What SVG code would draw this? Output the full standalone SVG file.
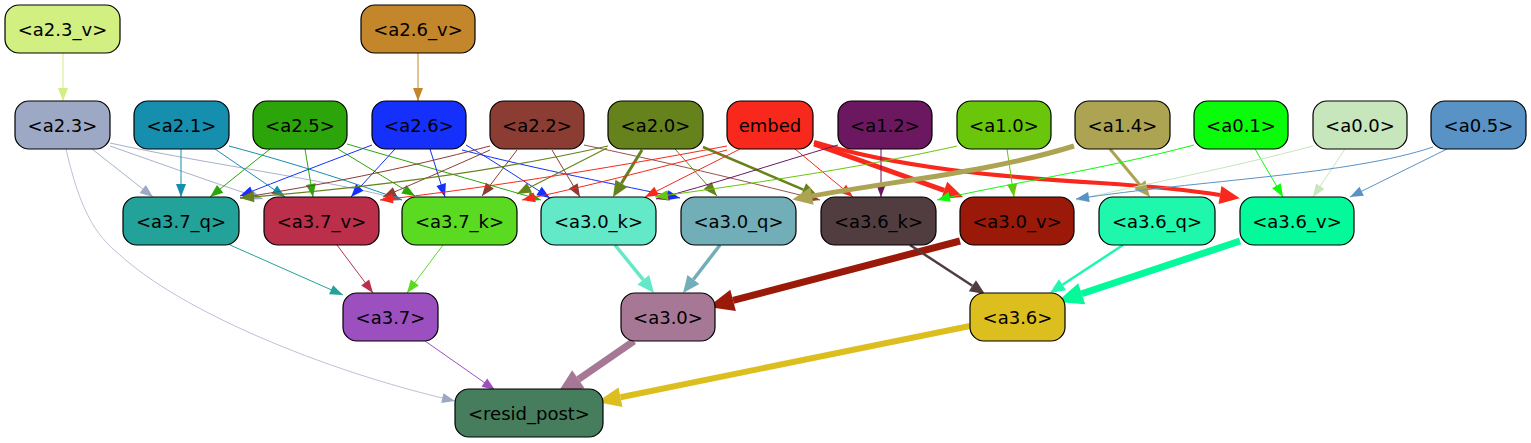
<svg xmlns="http://www.w3.org/2000/svg" width="1531" height="443" viewBox="0 0 1531 443">
<style>
.n rect{stroke:#000;stroke-width:1.2}
.n text{font-family:"DejaVu Sans",sans-serif;font-size:18px;text-anchor:middle;fill:#000}
#edges path{fill:none}
</style>
<defs>
<marker id="t-d1f081" markerUnits="userSpaceOnUse" orient="auto" overflow="visible" refX="0" refY="0"><path d="M-13,-5L0,0L-13,5z" fill="#d1f081"/></marker>
<marker id="t-c4862a" markerUnits="userSpaceOnUse" orient="auto" overflow="visible"><path d="M-13,-5L0,0L-13,5z" fill="#c4862a"/></marker>
<marker id="t-9da8c4" markerUnits="userSpaceOnUse" orient="auto" overflow="visible"><path d="M-13,-5L0,0L-13,5z" fill="#9da8c4"/></marker>
<marker id="t-168ead" markerUnits="userSpaceOnUse" orient="auto" overflow="visible"><path d="M-13,-5L0,0L-13,5z" fill="#168ead"/></marker>
<marker id="t-2ca50b" markerUnits="userSpaceOnUse" orient="auto" overflow="visible"><path d="M-13,-5L0,0L-13,5z" fill="#2ca50b"/></marker>
<marker id="t-1430fa" markerUnits="userSpaceOnUse" orient="auto" overflow="visible"><path d="M-13,-5L0,0L-13,5z" fill="#1430fa"/></marker>
<marker id="t-8b3d34" markerUnits="userSpaceOnUse" orient="auto" overflow="visible"><path d="M-13,-5L0,0L-13,5z" fill="#8b3d34"/></marker>
<marker id="t-65821c" markerUnits="userSpaceOnUse" orient="auto" overflow="visible"><path d="M-14,-5.5L0,0L-14,5.5z" fill="#65821c"/></marker>
<marker id="t-f8291c" markerUnits="userSpaceOnUse" orient="auto" overflow="visible"><path d="M-13,-5L0,0L-13,5z" fill="#f8291c"/></marker>
<marker id="t-6b1860" markerUnits="userSpaceOnUse" orient="auto" overflow="visible"><path d="M-13,-5L0,0L-13,5z" fill="#6b1860"/></marker>
<marker id="t-69c60a" markerUnits="userSpaceOnUse" orient="auto" overflow="visible"><path d="M-13,-5L0,0L-13,5z" fill="#69c60a"/></marker>
<marker id="t-0afc0a" markerUnits="userSpaceOnUse" orient="auto" overflow="visible"><path d="M-13,-5L0,0L-13,5z" fill="#0afc0a"/></marker>
<marker id="t-c7e6bb" markerUnits="userSpaceOnUse" orient="auto" overflow="visible"><path d="M-13,-5L0,0L-13,5z" fill="#c7e6bb"/></marker>
<marker id="t-5993c6" markerUnits="userSpaceOnUse" orient="auto" overflow="visible"><path d="M-13,-5L0,0L-13,5z" fill="#5993c6"/></marker>
<marker id="t-22a299" markerUnits="userSpaceOnUse" orient="auto" overflow="visible"><path d="M-13,-5L0,0L-13,5z" fill="#22a299"/></marker>
<marker id="t-bb2f4b" markerUnits="userSpaceOnUse" orient="auto" overflow="visible"><path d="M-13,-5L0,0L-13,5z" fill="#bb2f4b"/></marker>
<marker id="t-5bda22" markerUnits="userSpaceOnUse" orient="auto" overflow="visible"><path d="M-13,-5L0,0L-13,5z" fill="#5bda22"/></marker>
<marker id="t-9c4fbf" markerUnits="userSpaceOnUse" orient="auto" overflow="visible"><path d="M-13,-5L0,0L-13,5z" fill="#9c4fbf"/></marker>
<marker id="m-65821c" markerUnits="userSpaceOnUse" orient="auto" overflow="visible"><path d="M0,-7L16,0L0,7z" fill="#65821c"/></marker>
<marker id="m-f8291c" markerUnits="userSpaceOnUse" orient="auto" overflow="visible"><path d="M0,-9L20,0L0,9z" fill="#f8291c"/></marker>
<marker id="m5-aca452" markerUnits="userSpaceOnUse" orient="auto" overflow="visible"><path d="M0,-9L20,0L0,9z" fill="#aca452"/></marker>
<marker id="m3-aca452" markerUnits="userSpaceOnUse" orient="auto" overflow="visible"><path d="M0,-7L16,0L0,7z" fill="#aca452"/></marker>
<marker id="m-63e8c8" markerUnits="userSpaceOnUse" orient="auto" overflow="visible"><path d="M0,-7.5L17,0L0,7.5z" fill="#63e8c8"/></marker>
<marker id="m-72aeb8" markerUnits="userSpaceOnUse" orient="auto" overflow="visible"><path d="M0,-7.5L17,0L0,7.5z" fill="#72aeb8"/></marker>
<marker id="m-9a1909" markerUnits="userSpaceOnUse" orient="auto" overflow="visible"><path d="M0,-11L26,0L0,11z" fill="#9a1909"/></marker>
<marker id="m-513d40" markerUnits="userSpaceOnUse" orient="auto" overflow="visible"><path d="M0,-6.5L15,0L0,6.5z" fill="#513d40"/></marker>
<marker id="m-1ff7ad" markerUnits="userSpaceOnUse" orient="auto" overflow="visible"><path d="M0,-6.5L15,0L0,6.5z" fill="#1ff7ad"/></marker>
<marker id="m-04f99b" markerUnits="userSpaceOnUse" orient="auto" overflow="visible"><path d="M0,-11L26,0L0,11z" fill="#04f99b"/></marker>
<marker id="m-a67896" markerUnits="userSpaceOnUse" orient="auto" overflow="visible"><path d="M0,-11L26,0L0,11z" fill="#a67896"/></marker>
<marker id="m-dcbf1e" markerUnits="userSpaceOnUse" orient="auto" overflow="visible"><path d="M0,-10L24,0L0,10z" fill="#dcbf1e"/></marker>
</defs>
<g id="edges">
<path d="M63,53L63,101" stroke="#d1f081" marker-end="url(#t-d1f081)"/>
<path d="M418,53L418,101" stroke="#c4862a" marker-end="url(#t-c4862a)"/>
<path d="M92,149L153,197" stroke="#9da8c4" stroke-width="0.9" marker-end="url(#t-9da8c4)"/>
<path d="M110,146C150,160 220,185 263,199" stroke="#9da8c4" stroke-width="0.9" marker-end="url(#t-9da8c4)"/>
<path d="M110,143C200,163 330,180 402,200" stroke="#9da8c4" stroke-width="0.9" marker-end="url(#t-9da8c4)"/>
<path d="M66,149C80,210 95,235 120,255C180,310 320,370 455,401" stroke="#9da8c4" stroke-width="0.7" marker-end="url(#t-9da8c4)"/>
<path d="M181,149L181,197" stroke="#168ead" marker-end="url(#t-168ead)"/>
<path d="M215,149L285,197" stroke="#168ead" marker-end="url(#t-168ead)"/>
<path d="M229,146C300,165 360,185 402,200" stroke="#168ead" marker-end="url(#t-168ead)"/>
<path d="M270,149L210,197" stroke="#2ca50b" marker-end="url(#t-2ca50b)"/>
<path d="M305,149L313,197" stroke="#2ca50b" marker-end="url(#t-2ca50b)"/>
<path d="M338,149L415,196" stroke="#2ca50b" marker-end="url(#t-2ca50b)"/>
<path d="M347,144C420,165 490,185 541,200" stroke="#2ca50b" marker-end="url(#t-2ca50b)"/>
<path d="M372,145C320,165 280,180 240,196" stroke="#1430fa" marker-end="url(#t-1430fa)"/>
<path d="M395,149L351,197" stroke="#1430fa" marker-end="url(#t-1430fa)"/>
<path d="M430,149L445,197" stroke="#1430fa" marker-end="url(#t-1430fa)"/>
<path d="M466,145C500,165 525,182 550,198" stroke="#1430fa" marker-end="url(#t-1430fa)"/>
<path d="M462,150C540,170 620,185 680,198" stroke="#1430fa" marker-end="url(#t-1430fa)"/>
<path d="M490,146C400,170 320,185 240,198" stroke="#8b3d34" marker-end="url(#t-8b3d34)"/>
<path d="M490,150C450,168 410,185 383,197" stroke="#8b3d34" marker-end="url(#t-8b3d34)"/>
<path d="M517,150L482,196" stroke="#8b3d34" marker-end="url(#t-8b3d34)"/>
<path d="M552,150L580,197" stroke="#8b3d34" marker-end="url(#t-8b3d34)"/>
<path d="M584,145C680,165 760,185 820,200" stroke="#8b3d34" stroke-width="0.9" marker-end="url(#t-8b3d34)"/>
<path d="M608,146C480,175 340,190 240,198" stroke="#65821c" stroke-width="1.2" marker-end="url(#t-65821c)"/>
<path d="M607,148L517,194" stroke="#65821c" stroke-width="1.2" marker-end="url(#t-65821c)"/>
<path d="M642,150L621.4,183.4" stroke="#65821c" stroke-width="3" marker-end="url(#m-65821c)"/>
<path d="M675,149L717,196" stroke="#65821c" marker-end="url(#t-65821c)"/>
<path d="M703,147L803.3,189.7" stroke="#65821c" stroke-width="2.5" marker-end="url(#m-65821c)"/>
<path d="M727,146C600,170 470,190 380,200" stroke="#f8291c" marker-end="url(#t-f8291c)"/>
<path d="M727,150C650,170 580,188 522,200" stroke="#f8291c" marker-end="url(#t-f8291c)"/>
<path d="M740,149L645,197" stroke="#f8291c" marker-end="url(#t-f8291c)"/>
<path d="M795,149L853,197" stroke="#f8291c" marker-end="url(#t-f8291c)"/>
<path d="M814,144L944.2,190.3" stroke="#f8291c" stroke-width="5" marker-end="url(#m-f8291c)"/>
<path d="M814,142C900,168 1000,177 1100,183C1160,187 1195,191 1220,195" stroke="#f8291c" stroke-width="4" marker-end="url(#m-f8291c)"/>
<path d="M838,145C770,165 710,185 656,199" stroke="#6b1860" marker-end="url(#t-6b1860)"/>
<path d="M881,149L881,197" stroke="#6b1860" marker-end="url(#t-6b1860)"/>
<path d="M957,146C850,170 740,185 655,197" stroke="#69c60a" marker-end="url(#t-69c60a)"/>
<path d="M1007,149L1014,197" stroke="#69c60a" marker-end="url(#t-69c60a)"/>
<path d="M1074,146C990,172 900,180 812,196" stroke="#aca452" stroke-width="5" marker-end="url(#m5-aca452)"/>
<path d="M1110,149L1139.8,184.7" stroke="#aca452" stroke-width="3" marker-end="url(#m3-aca452)"/>
<path d="M1194,145C1100,170 1000,185 937,200" stroke="#0afc0a" marker-end="url(#t-0afc0a)"/>
<path d="M1255,149L1283,197" stroke="#0afc0a" marker-end="url(#t-0afc0a)"/>
<path d="M1313,146C1230,168 1140,185 1076,200" stroke="#c7e6bb" marker-end="url(#t-c7e6bb)"/>
<path d="M1345,149L1313,197" stroke="#c7e6bb" marker-end="url(#t-c7e6bb)"/>
<path d="M1433,147C1350,175 1200,180 1076,199" stroke="#5993c6" marker-end="url(#t-5993c6)"/>
<path d="M1447,149L1350,197" stroke="#5993c6" marker-end="url(#t-5993c6)"/>
<path d="M230,245L343,295" stroke="#22a299" marker-end="url(#t-22a299)"/>
<path d="M337,245L373,293" stroke="#bb2f4b" marker-end="url(#t-bb2f4b)"/>
<path d="M443,245L407,293" stroke="#5bda22" marker-end="url(#t-5bda22)"/>
<path d="M615,245L643.3,279.8" stroke="#63e8c8" stroke-width="3.5" marker-end="url(#m-63e8c8)"/>
<path d="M720,245L693.4,279.5" stroke="#72aeb8" stroke-width="3.5" marker-end="url(#m-72aeb8)"/>
<path d="M960,241L733.1,300.4" stroke="#9a1909" stroke-width="7" marker-end="url(#m-9a1909)"/>
<path d="M910,245L972.4,285.8" stroke="#513d40" stroke-width="2.5" marker-end="url(#m-513d40)"/>
<path d="M1123,245L1062.5,284.8" stroke="#1ff7ad" stroke-width="2.5" marker-end="url(#m-1ff7ad)"/>
<path d="M1240,241L1081.7,293.8" stroke="#04f99b" stroke-width="7" marker-end="url(#m-04f99b)"/>
<path d="M425,341L495,390" stroke="#9c4fbf" marker-end="url(#t-9c4fbf)"/>
<path d="M634,341L578.4,379.3" stroke="#a67896" stroke-width="7" marker-end="url(#m-a67896)"/>
<path d="M970,326L620.5,397.2" stroke="#dcbf1e" stroke-width="6" marker-end="url(#m-dcbf1e)"/>
</g>
<g id="a2.3_v" class="n"><rect x="5" y="5" width="115" height="48" rx="14" fill="#d1f081"/><text x="62.5" y="35.5">&lt;a2.3_v&gt;</text></g>
<g id="a2.6_v" class="n"><rect x="361" y="5" width="114" height="48" rx="14" fill="#c4862a"/><text x="418" y="35.5">&lt;a2.6_v&gt;</text></g>
<g id="a2.3" class="n"><rect x="15" y="101" width="95" height="48" rx="14" fill="#9da8c4"/><text x="62.5" y="131.5">&lt;a2.3&gt;</text></g>
<g id="a2.1" class="n"><rect x="134" y="101" width="95" height="48" rx="14" fill="#168ead"/><text x="181.5" y="131.5">&lt;a2.1&gt;</text></g>
<g id="a2.5" class="n"><rect x="253" y="101" width="94" height="48" rx="14" fill="#2ca50b"/><text x="300" y="131.5">&lt;a2.5&gt;</text></g>
<g id="a2.6" class="n"><rect x="372" y="101" width="94" height="48" rx="14" fill="#1430fa"/><text x="419" y="131.5">&lt;a2.6&gt;</text></g>
<g id="a2.2" class="n"><rect x="490" y="101" width="94" height="48" rx="14" fill="#8b3d34"/><text x="537" y="131.5">&lt;a2.2&gt;</text></g>
<g id="a2.0" class="n"><rect x="608" y="101" width="95" height="48" rx="14" fill="#65821c"/><text x="655.5" y="131.5">&lt;a2.0&gt;</text></g>
<g id="embed" class="n"><rect x="727" y="101" width="86" height="48" rx="14" fill="#f8291c"/><text x="770" y="131.5">embed</text></g>
<g id="a1.2" class="n"><rect x="838" y="101" width="94" height="48" rx="14" fill="#6b1860"/><text x="885" y="131.5">&lt;a1.2&gt;</text></g>
<g id="a1.0" class="n"><rect x="957" y="101" width="94" height="48" rx="14" fill="#69c60a"/><text x="1004" y="131.5">&lt;a1.0&gt;</text></g>
<g id="a1.4" class="n"><rect x="1075" y="101" width="95" height="48" rx="14" fill="#aca452"/><text x="1122.5" y="131.5">&lt;a1.4&gt;</text></g>
<g id="a0.1" class="n"><rect x="1194" y="101" width="94" height="48" rx="14" fill="#0afc0a"/><text x="1241" y="131.5">&lt;a0.1&gt;</text></g>
<g id="a0.0" class="n"><rect x="1313" y="101" width="94" height="48" rx="14" fill="#c7e6bb"/><text x="1360" y="131.5">&lt;a0.0&gt;</text></g>
<g id="a0.5" class="n"><rect x="1431" y="101" width="95" height="48" rx="14" fill="#5993c6"/><text x="1478.5" y="131.5">&lt;a0.5&gt;</text></g>
<g id="a3.7_q" class="n"><rect x="123" y="197" width="116" height="48" rx="14" fill="#22a299"/><text x="181" y="227.5">&lt;a3.7_q&gt;</text></g>
<g id="a3.7_v" class="n"><rect x="264" y="197" width="115" height="48" rx="14" fill="#bb2f4b"/><text x="321.5" y="227.5">&lt;a3.7_v&gt;</text></g>
<g id="a3.7_k" class="n"><rect x="402" y="197" width="115" height="48" rx="14" fill="#5bda22"/><text x="459.5" y="227.5">&lt;a3.7_k&gt;</text></g>
<g id="a3.0_k" class="n"><rect x="541" y="197" width="115" height="48" rx="14" fill="#63e8c8"/><text x="598.5" y="227.5">&lt;a3.0_k&gt;</text></g>
<g id="a3.0_q" class="n"><rect x="681" y="197" width="115" height="48" rx="14" fill="#72aeb8"/><text x="738.5" y="227.5">&lt;a3.0_q&gt;</text></g>
<g id="a3.6_k" class="n"><rect x="821" y="197" width="115" height="48" rx="14" fill="#513d40"/><text x="878.5" y="227.5">&lt;a3.6_k&gt;</text></g>
<g id="a3.0_v" class="n"><rect x="960" y="197" width="114" height="48" rx="14" fill="#9a1909"/><text x="1017" y="227.5">&lt;a3.0_v&gt;</text></g>
<g id="a3.6_q" class="n"><rect x="1099" y="197" width="116" height="48" rx="14" fill="#1ff7ad"/><text x="1157" y="227.5">&lt;a3.6_q&gt;</text></g>
<g id="a3.6_v" class="n"><rect x="1240" y="197" width="114" height="48" rx="14" fill="#04f99b"/><text x="1297" y="227.5">&lt;a3.6_v&gt;</text></g>
<g id="a3.7" class="n"><rect x="343" y="293" width="95" height="48" rx="14" fill="#9c4fbf"/><text x="390.5" y="323.5">&lt;a3.7&gt;</text></g>
<g id="a3.0" class="n"><rect x="621" y="293" width="94" height="48" rx="14" fill="#a67896"/><text x="668" y="323.5">&lt;a3.0&gt;</text></g>
<g id="a3.6" class="n"><rect x="970" y="293" width="95" height="48" rx="14" fill="#dcbf1e"/><text x="1017.5" y="323.5">&lt;a3.6&gt;</text></g>
<g id="resid_post" class="n"><rect x="455" y="389" width="148" height="48" rx="14" fill="#467d5c"/><text x="529" y="419.5">&lt;resid_post&gt;</text></g>
</svg>
